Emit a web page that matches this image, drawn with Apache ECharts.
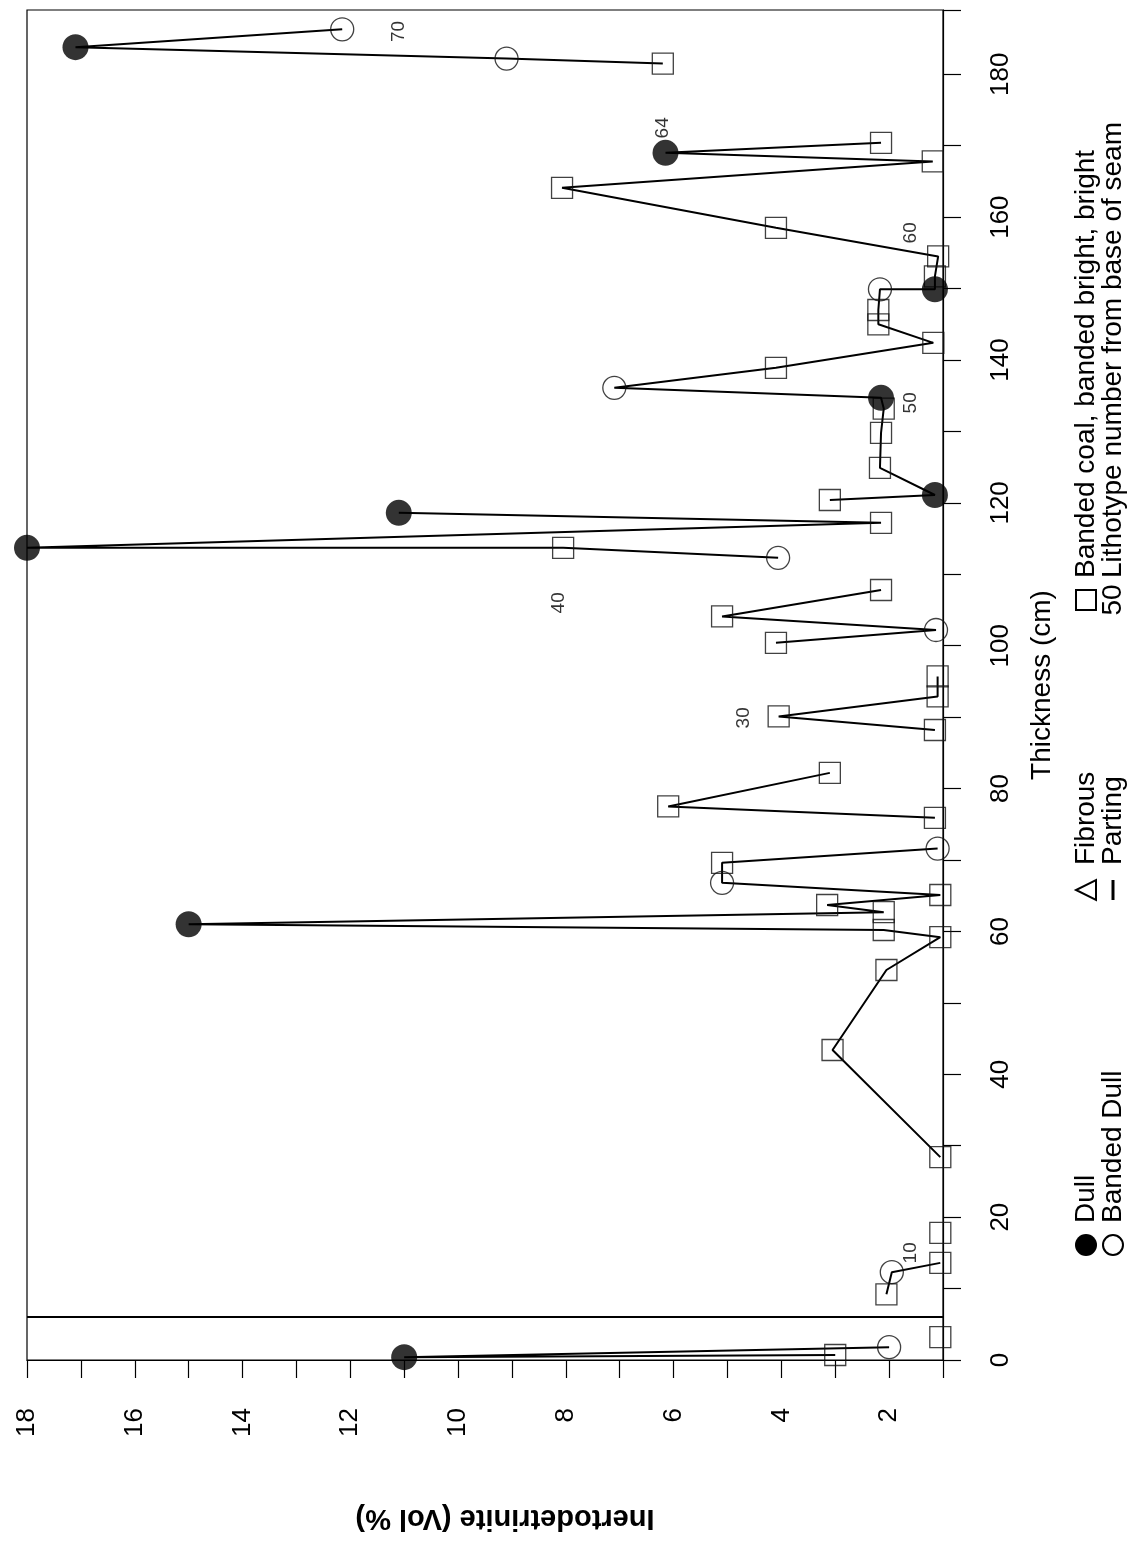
<!DOCTYPE html>
<html>
<head>
<meta charset="utf-8">
<script src="https://cdn.jsdelivr.net/npm/echarts@6/dist/echarts.min.js"></script>
<style>
  html, body { margin: 0; padding: 0; background: #fff; }
  #chart { width: 1139px; height: 1565px; }
</style>
</head>
<body>
<div id="chart"></div>
<script>
// samples read from the profile, bottom of the seam upwards
// B = banded coal / banded bright / bright, BD = banded dull, D = dull
var thickness = [0.7, 0.4, 1.8, 3.2, 9.2, 12.3, 13.6, 17.8,
  28.4, 43.4, 54.6, 59.2, 60.2, 61, 62.7, 63.7, 65.1, 66.8, 69.6, 71.6,
  75.9, 77.5, 82.2, 88.2, 90.1, 92.9, 95.7, 100.4, 102.2, 104.1, 107.8,
  112.3, 113.7, 113.7, 117.2, 118.6,
  120.4, 121.1, 124.9, 129.8, 133.2, 134.7, 136.1, 138.9, 142.4, 145, 147,
  149.9, 149.9, 151.7, 154.5, 158.5, 164.1, 167.8, 169, 170.4,
  181.5, 182.2, 183.8, 186.3];
var inertodetrinite = [3.0, 11.0, 2.0, 1.05, 2.05, 1.95, 1.05, 1.05,
  1.05, 3.05, 2.05, 1.05, 2.1, 15.0, 2.1, 3.15, 1.05, 5.1, 5.1, 1.1,
  1.15, 6.1, 3.1, 1.15, 4.05, 1.1, 1.1, 4.1, 1.13, 5.1, 2.15,
  4.06, 8.05, 18.0, 2.15, 11.1,
  3.1, 1.15, 2.17, 2.15, 2.1, 2.15, 7.1, 4.1, 1.18, 2.2, 2.2,
  2.17, 1.15, 1.15, 1.09, 4.1, 8.07, 1.19, 6.15, 2.15,
  6.2, 9.1, 17.1, 12.15];
var lithotype = ['B', 'D', 'BD', 'B', 'B', 'BD', 'B', 'B',
  'B', 'B', 'B', 'B', 'B', 'D', 'B', 'B', 'B', 'BD', 'B', 'BD',
  'B', 'B', 'B', 'B', 'B', 'B', 'B', 'B', 'BD', 'B', 'B',
  'BD', 'B', 'D', 'B', 'D',
  'B', 'D', 'B', 'B', 'B', 'D', 'BD', 'B', 'B', 'B', 'B',
  'BD', 'D', 'B', 'B', 'B', 'B', 'B', 'D', 'B',
  'B', 'BD', 'D', 'BD'];
// which connected run of the profile each sample belongs to
var segment = [1, 1, 1, 2, 3, 3, 3, 4,
  5, 5, 5, 5, 5, 5, 5, 5, 5, 5, 5, 5,
  6, 6, 6, 7, 7, 7, 7, 8, 8, 8, 8,
  9, 9, 9, 9, 9,
  10, 10, 10, 10, 10, 10, 10, 10, 10, 10, 10,
  10, 10, 10, 10, 10, 10, 10, 10, 10,
  11, 11, 11, 11];

// lithotype numbers written beside the profile
var numberText = ['10', '30', '40', '50', '60', '64', '70'];
var numberThickness = [15, 89.9, 106, 134, 157.8, 172.5, 186];
var numberValue = [1.6, 4.7, 8.13, 1.6, 1.6, 6.2, 11.1];

var boundaryThickness = [6];

var xTicks = [2, 4, 6, 8, 10, 12, 14, 16, 18];
var yTicks = [0, 20, 40, 60, 80, 100, 120, 140, 160, 180];

var FONT = '"Liberation Sans", Arial, Helvetica, sans-serif';
var LEGEND_FONT = '28px ' + FONT;

function pointsOf(type) {
  var out = [];
  for (var i = 0; i < thickness.length; i++) {
    if (lithotype[i] === type) out.push([inertodetrinite[i], thickness[i]]);
  }
  return out;
}

var series = [];
var runs = {};
for (var i = 0; i < thickness.length; i++) {
  if (!runs[segment[i]]) runs[segment[i]] = [];
  runs[segment[i]].push([inertodetrinite[i], thickness[i]]);
}
Object.keys(runs).forEach(function (k, n) {
  var s = {
    type: 'line',
    data: runs[k],
    showSymbol: false,
    symbol: 'none',
    silent: true,
    lineStyle: { color: '#000', width: 2 },
    z: 2
  };
  if (n === 0) {
    s.markLine = {
      silent: true,
      symbol: 'none',
      label: { show: false },
      lineStyle: { color: '#000', width: 2, type: 'solid' },
      data: boundaryThickness.map(function (t) { return { yAxis: t }; })
    };
  }
  series.push(s);
});

series.push({
  name: 'Banded coal, banded bright, bright',
  type: 'scatter',
  symbol: 'rect',
  symbolSize: 21,
  data: pointsOf('B'),
  itemStyle: { color: 'rgba(255,255,255,0)', borderColor: '#111', borderWidth: 1.3 },
  z: 3
});
series.push({
  name: 'Banded Dull',
  type: 'scatter',
  symbol: 'circle',
  symbolSize: 23,
  data: pointsOf('BD'),
  itemStyle: { color: 'rgba(255,255,255,0)', borderColor: '#111', borderWidth: 1.3 },
  z: 3
});
series.push({
  name: 'Dull',
  type: 'scatter',
  symbol: 'circle',
  symbolSize: 26,
  data: pointsOf('D'),
  itemStyle: { color: '#000' },
  z: 4
});
series.push({
  type: 'scatter',
  symbolSize: 0,
  silent: true,
  data: numberText.map(function (t, i) { return { value: [numberValue[i], numberThickness[i]], name: t }; }),
  label: {
    show: true,
    position: 'inside',
    rotate: 90,
    formatter: '{b}',
    fontFamily: FONT,
    fontSize: 19,
    color: '#000'
  },
  z: 5
});

var chart = echarts.init(document.getElementById('chart'));

var option = {
  animation: false,
  backgroundColor: '#fff',
  grid: {
    left: 27, right: 196, top: 10, bottom: 205,
    show: true, borderColor: '#000', borderWidth: 1.2
  },
  xAxis: {
    type: 'value',
    inverse: true,
    min: 1,
    max: 18,
    interval: 1,
    axisLine: { show: true, onZero: false, lineStyle: { color: '#000', width: 1.2 } },
    axisTick: { show: true, inside: false, length: 18, lineStyle: { color: '#000', width: 1.2 } },
    splitLine: { show: false },
    axisLabel: {
      rotate: 90,
      margin: 48,
      fontFamily: FONT,
      fontSize: 26,
      color: '#000',
      formatter: function (v) { return xTicks.indexOf(v) >= 0 ? String(v) : ''; }
    }
  },
  yAxis: {
    type: 'value',
    position: 'right',
    min: 0,
    max: 189,
    interval: 10,
    name: 'Thickness (cm)',
    nameLocation: 'middle',
    nameRotate: 90,
    nameGap: 85,
    nameTextStyle: { fontFamily: FONT, fontSize: 28, color: '#000' },
    axisLine: { show: true, onZero: false, lineStyle: { color: '#000', width: 1.2 } },
    axisTick: { show: true, inside: false, length: 18, lineStyle: { color: '#000', width: 1.2 } },
    splitLine: { show: false },
    axisLabel: {
      rotate: 90,
      margin: 45,
      fontFamily: FONT,
      fontSize: 26,
      color: '#000',
      formatter: function (v) { return yTicks.indexOf(v) >= 0 ? String(v) : ''; }
    }
  },
  graphic: [{
    // value-axis title, printed upside down as on the turned page
    type: 'text',
    x: 505,
    y: 1518,
    rotation: Math.PI,
    style: {
      text: 'Inertodetrinite (Vol %)',
      font: 'bold 29px ' + FONT,
      fill: '#000',
      align: 'center',
      verticalAlign: 'middle'
    }
  }, {
    type: 'group',
    x: 1086,
    y: 1245,
    rotation: Math.PI / 2,
    children: [
      { type: 'circle', shape: { cx: 0, cy: 0, r: 11 }, style: { fill: '#000' } },
      { type: 'text', x: 22, y: 0, style: { text: 'Dull', font: LEGEND_FONT, fill: '#000', verticalAlign: 'middle' } },
      { type: 'circle', shape: { cx: 0, cy: 27, r: 10 }, style: { fill: 'none', stroke: '#000', lineWidth: 2 } },
      { type: 'text', x: 22, y: 27, style: { text: 'Banded Dull', font: LEGEND_FONT, fill: '#000', verticalAlign: 'middle' } },

      { type: 'polygon', shape: { points: [[345, 10], [365, 10], [355, -10]] }, style: { fill: 'none', stroke: '#000', lineWidth: 2 } },
      { type: 'text', x: 380, y: 0, style: { text: 'Fibrous', font: LEGEND_FONT, fill: '#000', verticalAlign: 'middle' } },
      { type: 'line', shape: { x1: 345, y1: 27, x2: 365, y2: 27 }, style: { stroke: '#000', lineWidth: 3 } },
      { type: 'text', x: 380, y: 27, style: { text: 'Parting', font: LEGEND_FONT, fill: '#000', verticalAlign: 'middle' } },

      { type: 'rect', shape: { x: 635, y: -10, width: 20, height: 20 }, style: { fill: 'none', stroke: '#000', lineWidth: 2 } },
      { type: 'text', x: 667, y: 0, style: { text: 'Banded coal, banded bright, bright', font: LEGEND_FONT, fill: '#000', verticalAlign: 'middle' } },
      { type: 'text', x: 645, y: 27, style: { text: '50', font: LEGEND_FONT, fill: '#000', align: 'center', verticalAlign: 'middle' } },
      { type: 'text', x: 667, y: 27, style: { text: 'Lithotype number from base of seam', font: LEGEND_FONT, fill: '#000', verticalAlign: 'middle' } }
    ]
  }],
  series: series
};

chart.setOption(option);
window.onresize = chart.resize;
</script>
</body>
</html>
